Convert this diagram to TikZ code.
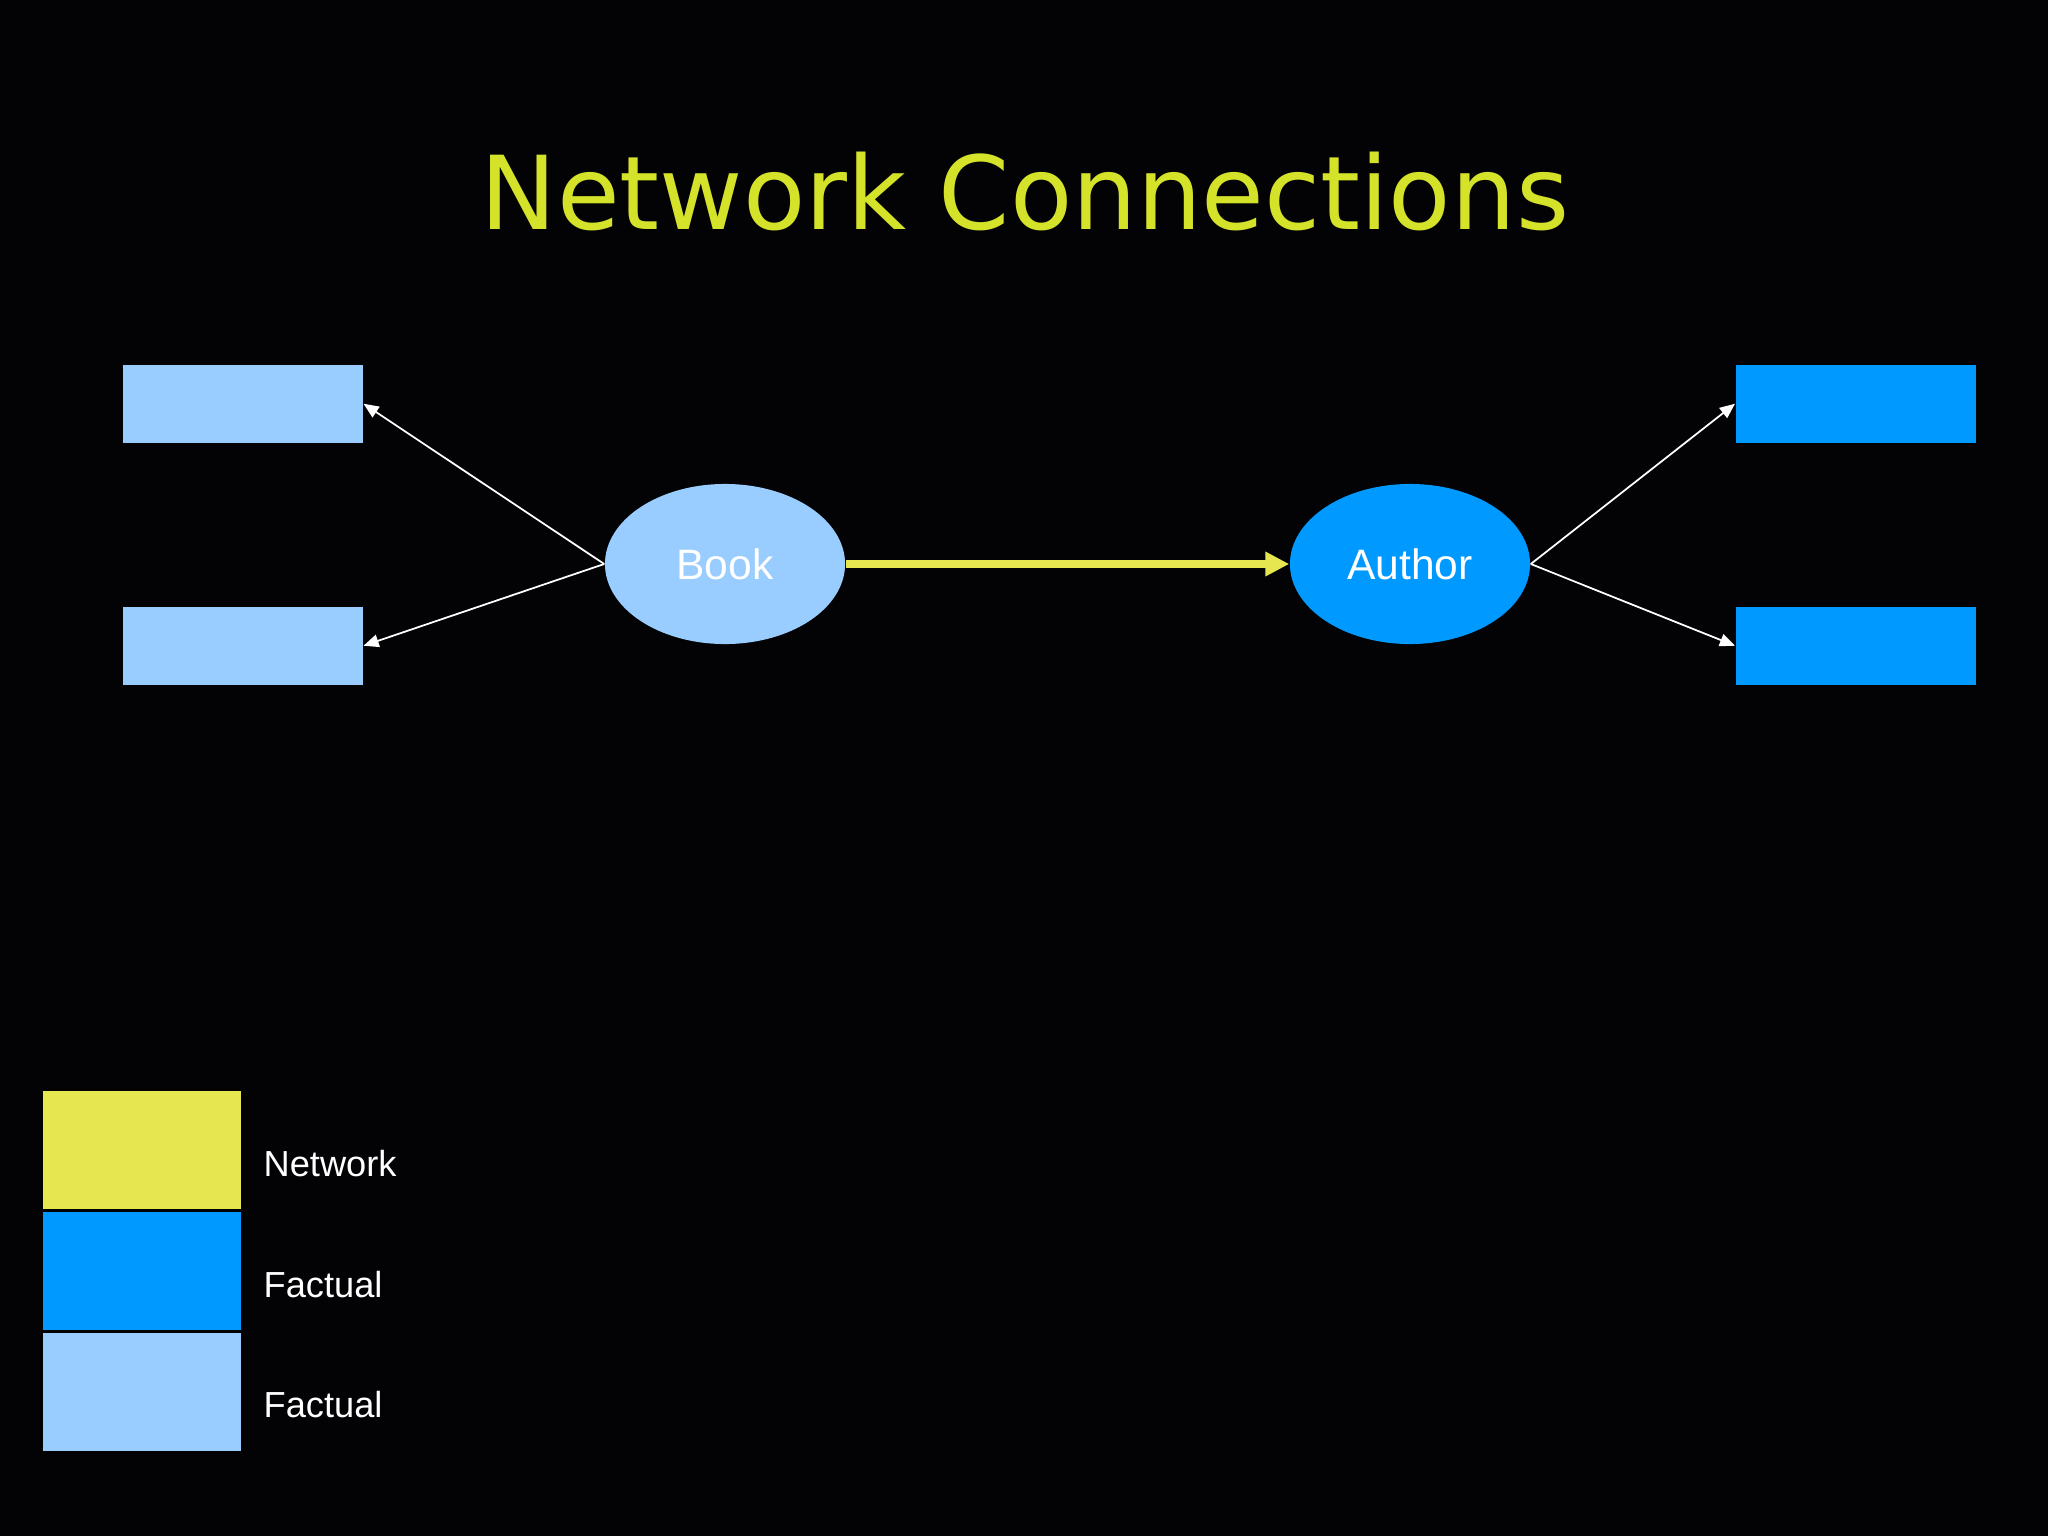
\documentclass[tikz,border=0pt]{standalone}
\usepackage{fontspec}
\setmainfont{Liberation Sans}
\newfontfamily\titlefont{DejaVu Sans}
\usetikzlibrary{shapes.geometric,arrows.meta}
\definecolor{bg}{RGB}{3,3,5}
\definecolor{titlecol}{RGB}{212,226,42}
\definecolor{netyellow}{RGB}{230,230,80}
\definecolor{factblue}{RGB}{0,153,255}
\definecolor{factlight}{RGB}{153,204,255}
\tikzset{
  lightbox/.style={rectangle,fill=factlight,minimum width=2.4cm,minimum height=0.78cm,inner sep=0,anchor=north west},
  bluebox/.style={rectangle,fill=factblue,minimum width=2.4cm,minimum height=0.78cm,inner sep=0,anchor=north west},
  bubble/.style={ellipse,minimum width=2.4cm,minimum height=1.6cm,inner sep=0,text=white,font=\fontsize{12.1pt}{14pt}\selectfont},
  whitearrow/.style={draw=white,line width=0.5pt,-{Triangle[length=4.3pt,width=3.6pt]}},
  netarrow/.style={draw=netyellow,line width=2pt,-{Triangle[length=6.8pt,width=6.6pt]}},
  legendbox/.style={rectangle,draw=black,line width=0.5pt,minimum width=2.0cm,minimum height=1.2cm,inner sep=0,anchor=north west},
  legendlabel/.style={anchor=base west,text=white,inner sep=0,font=\fontsize{10.3pt}{12pt}\selectfont}
}
\begin{document}
\begin{tikzpicture}[x=0.01cm,y=-0.01cm]
  \fill[bg] (0,0) rectangle (2048,1536);
  \useasboundingbox (0,0) rectangle (2048,1536);
  % title
  \node[anchor=base,inner sep=0,text=titlecol,font=\titlefont\fontsize{29pt}{34pt}\selectfont] (title) at (1025,229) {Network Connections};
  % boxes
  \node[lightbox] (tl) at (122,364) {};
  \node[lightbox] (bl) at (122,606) {};
  \node[bluebox] (tr) at (1735,364) {};
  \node[bluebox] (br) at (1735,606) {};
  % ellipses
  \node[bubble,fill=factlight] (book) at (725,564) {Book};
  \node[bubble,fill=factblue] (author) at (1410,564) {Author};
  % connectors
  \draw[whitearrow] (book.west) -- (tl.east);
  \draw[whitearrow] (book.west) -- (bl.east);
  \draw[whitearrow] (author.east) -- (tr.west);
  \draw[whitearrow] (author.east) -- (br.west);
  \draw[netarrow] (book.east) -- (author.west);
  % legend
  \node[legendbox,fill=netyellow] (lnet) at (41,1089) {};
  \node[legendbox,fill=factblue] (lfact) at (41,1210) {};
  \node[legendbox,fill=factlight] (llight) at (41,1331) {};
  \node[legendlabel] (tnet) at (263,1176) {Network};
  \node[legendlabel] (tfact) at (263,1297) {Factual};
  \node[legendlabel] (tlight) at (263,1417) {Factual};
\end{tikzpicture}
\end{document}
